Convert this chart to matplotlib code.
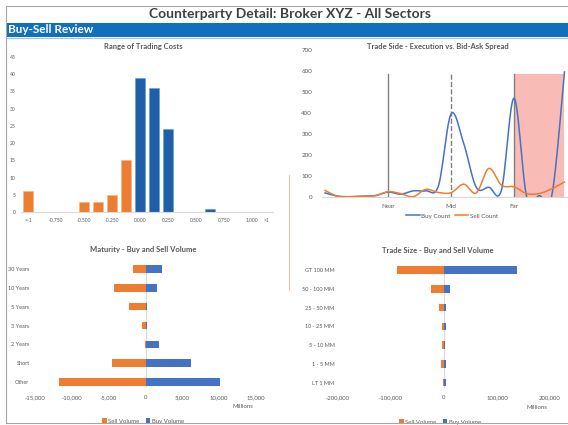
import numpy as np
import matplotlib.pyplot as plt
from matplotlib.lines import Line2D
from matplotlib.patches import Rectangle

plt.rcParams['font.family'] = ['Lato', 'DejaVu Sans']

W, H = 568, 425
ORANGE = '#ED7D31'
BLUE = '#4472C4'
DARK_BLUE = '#1F5FA8'
GREY = '#595959'

# --- data -----------------------------------------------------------------
cost_labels = ['<-1', '', '-0.750', '', '-0.500', '', '-0.250', '', '0.000', '',
               '0.250', '', '0.500', '', '0.750', '', '1.000', '>1']
sell_costs = [6, 0, 0, 0, 3, 3, 5, 15, 0, 0, 0, 0, 0, 0, 0, 0, 0, 0]
buy_costs = [0, 0, 0, 0, 0, 0, 0, 0, 39, 36, 24, 0, 0, 1, 0, 0, 0, 0]

side_labels = ['', '', '', '', '', 'Near', '', '', '', '', 'Mid', '', '', '', '',
               'Far', '', '', '', '']
buy_count = [18, 3, 0, 3, 5, 22, 12, 28, 28, 52, 395, 255, 45, 45, 32, 470, 0, 5, 8, 595]
sell_count = [30, 2, 0, 2, 5, 24, 15, 0, 35, 20, 19, 60, 18, 135, 55, 47, 15, 15, 38, 70]
ref_lines = ['Near', 'Mid', 'Far']
ref_styles = ['-', '--', '-']
ref_top = 585
band_from = 'Far'

maturity = ['30 Years', '10 Years', '5 Years', '3 Years', '2 Years', 'Short', 'Other']
mat_sell = [-1720, -4210, -2220, -540, -100, -4530, -11690]
mat_buy = [2220, 1500, 180, 180, 1860, 6160, 10150]

sizes = ['GT 100 MM', '50 - 100 MM', '25 - 50 MM', '10 - 25 MM', '5 - 10 MM', '1 - 5 MM', 'LT 1 MM']
size_sell = [-87900, -23600, -9550, -4450, -3800, -6350, -2550]
size_buy = [138200, 11500, 4450, 3200, 2550, 3200, 3200]


def px_axes(fig, x0, y0, x1, y1):
    # place an axes using pixel coordinates measured from the top-left corner
    return fig.add_axes([x0 / W, 1 - y1 / H, (x1 - x0) / W, (y1 - y0) / H])


def px_text(fig, x, y, s, **kw):
    kw.setdefault('ha', 'center')
    kw.setdefault('va', 'center')
    return fig.text(x / W, 1 - y / H, s, **kw)


def smooth(y, n=24):
    # Excel-style smoothed line (Catmull-Rom / cubic Bezier through the points)
    y = np.asarray(y, float)
    x = np.arange(len(y), dtype=float)
    P = np.column_stack([x, y])
    P = np.vstack([P[0], P, P[-1]])
    xs, ys = [], []
    t = np.linspace(0, 1, n)[:, None]
    for i in range(1, len(P) - 2):
        p0, p3 = P[i], P[i + 1]
        p1 = p0 + (P[i + 1] - P[i - 1]) / 6
        p2 = p3 - (P[i + 2] - P[i]) / 6
        c = (1 - t) ** 3 * p0 + 3 * (1 - t) ** 2 * t * p1 + 3 * (1 - t) * t ** 2 * p2 + t ** 3 * p3
        xs.extend(c[:, 0])
        ys.extend(c[:, 1])
    return np.array(xs), np.array(ys)


def clean(ax):
    for s in ax.spines.values():
        s.set_visible(False)
    ax.tick_params(length=0, labelsize=4.3, labelcolor=GREY)


def chart_title(x, y, s):
    px_text(fig, x, y, s, fontsize=5.5, fontweight='bold', color=GREY)


fig = plt.figure(figsize=(W / 100, H / 100), dpi=100)

# page frame, title and banner
fig.add_artist(Line2D([6 / W, 6 / W], [1 - 423 / H, 1 - 6 / H], color='#A6A6A6', lw=0.8))
fig.add_artist(Line2D([6 / W, 1], [1 - 6 / H, 1 - 6 / H], color='#A6A6A6', lw=0.8))
fig.add_artist(Line2D([6 / W, 1], [1 - 423 / H, 1 - 423 / H], color='#A6A6A6', lw=0.8))
px_text(fig, 290, 14, 'Counterparty Detail: Broker XYZ - All Sectors',
        fontsize=10, fontweight='bold', color='#404040')
fig.add_artist(Rectangle((6 / W, 1 - 37 / H), 1, 14.5 / H, transform=fig.transFigure,
                         color='#1170BD', lw=0))
fig.add_artist(Line2D([6 / W, 1], [1 - 38 / H, 1 - 38 / H], color='#9DC3E6', lw=0.8))
px_text(fig, 8, 29.5, 'Buy-Sell Review', ha='left', fontsize=8.5, fontweight='bold', color='white')
fig.add_artist(Line2D([289 / W, 289 / W], [1 - 290 / H, 1 - 175 / H], color='#F4B183', lw=0.6))

# --- Range of Trading Costs ------------------------------------------------
ax1 = px_axes(fig, 21, 57, 273, 212)
pos = np.arange(len(cost_labels))
ax1.bar(pos, sell_costs, width=0.78, color=ORANGE, edgecolor='#F4B183', lw=0.4)
ax1.bar(pos, buy_costs, width=0.78, color=DARK_BLUE, edgecolor='#5B9BD5', lw=0.4)
ax1.set_xlim(-0.5, len(cost_labels) - 0.5)
ax1.set_ylim(0, 45)
ax1.set_yticks(range(0, 46, 5))
ax1.set_xticks(pos)
ax1.set_xticklabels(cost_labels)
clean(ax1)
ax1.tick_params(labelsize=3.6, pad=4)
ax1.spines['bottom'].set_visible(True)
ax1.spines['bottom'].set_color('#D9D9D9')
chart_title(143, 46, 'Range of Trading Costs')

# --- Trade Side ------------------------------------------------------------
ax2 = px_axes(fig, 322, 50, 567, 196.7)
band_i = side_labels.index(band_from)
ax2.add_patch(Rectangle((band_i, 0), len(side_labels) - 1 - band_i, ref_top,
                        color='#F8B4AE', alpha=0.9, lw=0, zorder=0))
for name, ls in zip(ref_lines, ref_styles):
    ax2.plot([side_labels.index(name)] * 2, [0, ref_top], color='#808080', lw=1.0, ls=ls, zorder=1)
bx, by = smooth(buy_count)
sx, sy = smooth(sell_count)
ax2.plot(bx, by, color=BLUE, lw=1.1, label='Buy Count', zorder=3)
ax2.plot(sx, sy, color=ORANGE, lw=1.1, label='Sell Count', zorder=3)
ax2.set_xlim(-0.24, len(side_labels) - 0.8)
ax2.set_ylim(0, 700)
ax2.set_yticks(range(0, 701, 100))
ax2.set_xticks(range(len(side_labels)))
ax2.set_xticklabels(side_labels)
clean(ax2)
ax2.tick_params(labelsize=4.5, pad=5)
ax2.tick_params(axis='y', pad=7)
ax2.spines['bottom'].set_visible(True)
ax2.spines['bottom'].set_color('#D9D9D9')
chart_title(438, 46, 'Trade Side - Execution vs. Bid-Ask Spread')
ax2.legend(loc='center', bbox_to_anchor=(452 / W, 1 - 216 / H), bbox_transform=fig.transFigure,
           ncol=2, frameon=False, fontsize=4.5, handlelength=2.2, columnspacing=0.6,
           handletextpad=0.2, labelcolor=GREY)


def volume_chart(ax, cats, sell, buy, lim, step):
    y = np.arange(len(cats))[::-1]
    ax.barh(y, sell, height=0.4, color=ORANGE, label='Sell Volume', zorder=2)
    ax.barh(y, buy, height=0.4, color=BLUE, label='Buy Volume', zorder=2)
    ax.axvline(0, color='#D9D9D9', lw=0.8, ymin=0.04, ymax=0.96, zorder=1)
    ax.set_xlim(-lim, lim)
    ax.set_ylim(-0.5, len(cats) - 0.5)
    ax.set_yticks(y)
    ax.set_yticklabels(cats)
    ticks = np.arange(-lim, lim + 1, step)
    ax.set_xticks(ticks)
    ax.set_xticklabels([f'{t:,.0f}' for t in ticks])
    clean(ax)
    ax.tick_params(axis='x', pad=2.5)
    ax.tick_params(axis='y', pad=4, labelsize=4.0)
    ax.legend(loc='center', bbox_transform=fig.transFigure, ncol=2, frameon=False,
              fontsize=4.3, handlelength=0.7, handleheight=0.7, columnspacing=1.0,
              handletextpad=0.3, labelcolor=GREY)


# --- Maturity --------------------------------------------------------------
ax3 = px_axes(fig, 35, 259.6, 256, 391.4)
volume_chart(ax3, maturity, mat_sell, mat_buy, 15000, 5000)
ax3.get_legend().set_bbox_to_anchor((143 / W, 1 - 421 / H), transform=fig.transFigure)
chart_title(143, 249.5, 'Maturity - Buy and Sell Volume')
px_text(fig, 243, 406, 'Millions', fontsize=4.3, color=GREY)

# --- Trade Size ------------------------------------------------------------
ax4 = px_axes(fig, 338, 260.6, 550, 392)
volume_chart(ax4, sizes, size_sell, size_buy, 200000, 100000)
ax4.tick_params(axis='y', pad=2.5)
ax4.get_legend().set_bbox_to_anchor((440 / W, 1 - 422 / H), transform=fig.transFigure)
chart_title(438, 250.5, 'Trade Size - Buy and Sell Volume')
px_text(fig, 537, 407.5, 'Millions', fontsize=4.3, color=GREY)

fig.savefig('out.png', dpi=100)
